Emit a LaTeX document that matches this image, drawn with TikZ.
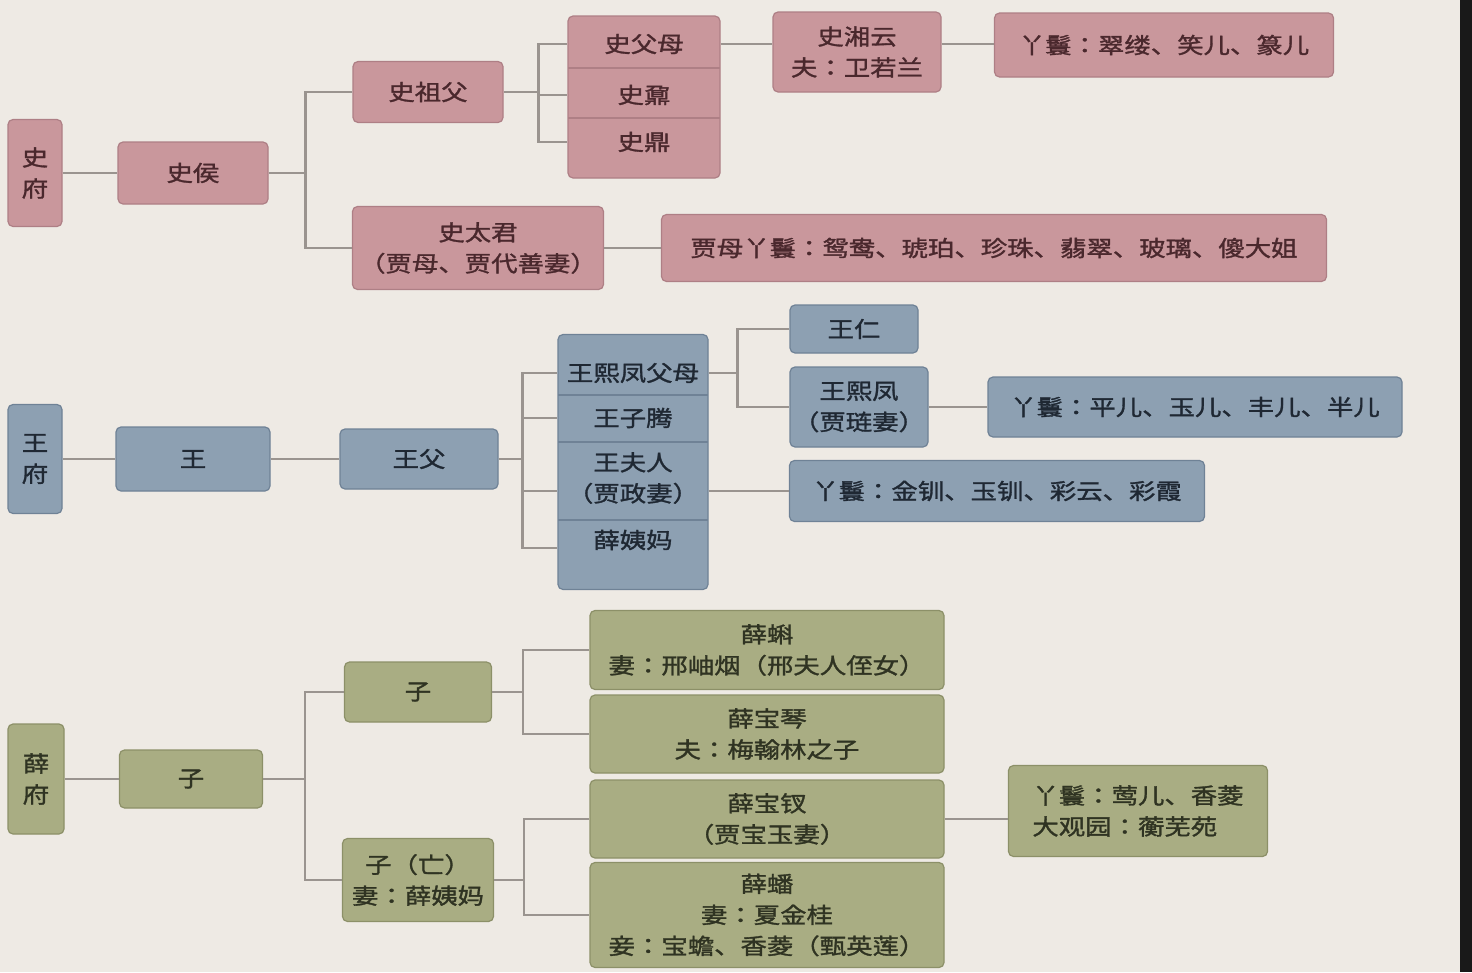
\documentclass[tikz,border=0pt]{standalone}
\usepackage{fontspec}
\newfontfamily\cjk[FakeStretch=1.2,FakeBold=1.4]{Noto Sans CJK JP}
\usetikzlibrary{calc}
\definecolor{Paper}{HTML}{EEEAE4}
\definecolor{ShiBack}{HTML}{C9979C}
\definecolor{ShiLine}{HTML}{AE7F85}
\definecolor{ShiText}{HTML}{4A282D}
\definecolor{WangBack}{HTML}{8DA0B2}
\definecolor{WangLine}{HTML}{6F8296}
\definecolor{WangText}{HTML}{1F2833}
\definecolor{XueBack}{HTML}{A9AD83}
\definecolor{XueLine}{HTML}{8C9068}
\definecolor{XueText}{HTML}{2F3322}
\definecolor{LinkGray}{HTML}{9A948F}
\tikzset{box/.style={draw,rounded corners=5pt,line width=1.2pt,inner sep=0pt,align=center,
 font=\cjk\fontsize{22pt}{31pt}\selectfont},
 shi/.style={box,draw=ShiLine,fill=ShiBack,text=ShiText},
 wang/.style={box,draw=WangLine,fill=WangBack,text=WangText},
 xue/.style={box,draw=XueLine,fill=XueBack,text=XueText},
 rowtext/.style={inner sep=0pt,align=center,font=\cjk\fontsize{22pt}{31pt}\selectfont},
 link/.style={draw=LinkGray,line width=2.4pt}}
\begin{document}
\begin{tikzpicture}[x=1pt,y=-1pt]
\fill[Paper] (0,0) rectangle (1472,972);
\fill[black!90] (1460,0) rectangle (1472,972);
\useasboundingbox (0,0) rectangle (1472,972);
% 史府
\node[shi,minimum width=54pt,minimum height=107pt] (sf) at (35,173) {史\\府};
\node[shi,minimum width=150pt,minimum height=62pt] (sh) at (193,173) {史侯};
\node[shi,minimum width=150pt,minimum height=61pt] (sz) at (428,92) {史祖父};
\node[shi,minimum width=152pt,minimum height=162pt] (sk) at (644,97) {};
\foreach \y in {68,118} \draw[ShiLine,line width=1.2pt] (568,\y) -- (720,\y);
\node[rowtext,text=ShiText] (s1) at (644,44) {史父母};
\node[rowtext,text=ShiText] (s2) at (644,95) {史鼐};
\node[rowtext,text=ShiText] (s3) at (644,142) {史鼎};
\node[shi,minimum width=168pt,minimum height=80pt] (sx) at (857,52) {史湘云\\夫：卫若兰};
\node[shi,minimum width=339pt,minimum height=64pt] (sy) at (1164,45) {丫鬟：翠缕、笑儿、篆儿};
\node[shi,minimum width=251pt,minimum height=83pt] (st) at (478,248) {史太君\\（贾母、贾代善妻）};
\node[shi,minimum width=665pt,minimum height=67pt] (sj) at (994,248) {贾母丫鬟：鸳鸯、琥珀、珍珠、翡翠、玻璃、傻大姐};
\draw[link] (sf) -- (sh);
\draw[link] (sh.east) -- ++(37,0) coordinate (b0);
\draw[link] (sz.west) -| (b0) |- (st.west);
\draw[link] (sz.east) -- ++(35,0) coordinate (b1);
\foreach \r in {s1,s2,s3} \draw[link] (b1) |- (\r -| sk.west);
\draw[link] (s1 -| sk.east) -- (s1 -| sx.west);
\draw[link] (s1 -| sx.east) -- (s1 -| sy.west);
\draw[link] (st) -- (sj);
% 王府
\node[wang,minimum width=54pt,minimum height=109pt] (wf) at (35,459) {王\\府};
\node[wang,minimum width=154pt,minimum height=64pt] (wa) at (193,459) {王};
\node[wang,minimum width=158pt,minimum height=60pt] (wb) at (419,459) {王父};
\node[wang,minimum width=150pt,minimum height=255pt] (wk) at (633,462) {};
\foreach \y in {395,442,520} \draw[WangLine,line width=1.2pt] (558,\y) -- (708,\y);
\node[rowtext,text=WangText] (w1) at (633,373) {王熙凤父母};
\node[rowtext,text=WangText] (w2) at (633,418) {王子腾};
\node[rowtext,text=WangText] (w3) at (633,478) {王夫人\\（贾政妻）};
\node[rowtext,text=WangText] (w4) at (633,540) {薛姨妈};
\node[wang,minimum width=128pt,minimum height=48pt] (wr) at (854,329) {王仁};
\node[wang,minimum width=138pt,minimum height=80pt] (wx) at (859,407) {王熙凤\\（贾琏妻）};
\node[wang,minimum width=414pt,minimum height=60pt] (wp) at (1195,407) {丫鬟：平儿、玉儿、丰儿、半儿};
\node[wang,minimum width=415pt,minimum height=61pt] (wj) at (997,491) {丫鬟：金钏、玉钏、彩云、彩霞};
\draw[link] (wf) -- (wa);
\draw[link] (wa) -- (wb);
\draw[link] (wb.east) -- ++(24,0) coordinate (b2);
\foreach \y in {373,418,491,548} \draw[link] (b2) |- (wk.west |- 0,\y);
\draw[link] (w1 -| wk.east) -- ++(29,0) coordinate (b3);
\draw[link] (wr.west) -| (b3) |- (wx.west);
\draw[link] (wx) -- (wp);
\draw[link] (wk.east |- wj) -- (wj);
% 薛府
\node[xue,minimum width=56pt,minimum height=110pt] (xf) at (36,779) {薛\\府};
\node[xue,minimum width=143pt,minimum height=58pt] (xa) at (191,779) {子};
\node[xue,minimum width=147pt,minimum height=60pt] (xb) at (418,692) {子};
\node[xue,minimum width=151pt,minimum height=83pt] (xc) at (418,880) {子（亡）\\妻：薛姨妈};
\node[xue,minimum width=354pt,minimum height=79pt] (xd) at (767,650) {薛蝌\\妻：邢岫烟（邢夫人侄女）};
\node[xue,minimum width=354pt,minimum height=78pt] (xe) at (767,734) {薛宝琴\\夫：梅翰林之子};
\node[xue,minimum width=354pt,minimum height=78pt] (xg) at (767,819) {薛宝钗\\（贾宝玉妻）};
\node[xue,minimum width=354pt,minimum height=105pt] (xh) at (767,915) {薛蟠\\妻：夏金桂\\妾：宝蟾、香菱（甄英莲）};
\node[xue,minimum width=259pt,minimum height=91pt,align=left] (xy) at (1138,811) {丫鬟：莺儿、香菱\\大观园：蘅芜苑};
\draw[link] (xf) -- (xa);
\draw[link] (xa.east) -- ++(42,0) coordinate (b4);
\draw[link] (xb.west) -| (b4) |- (xc.west);
\draw[link] (xb.east) -- ++(31,0) coordinate (b5);
\draw[link] (xd.west) -| (b5) |- (xe.west);
\draw[link] (xc.east) -- ++(30,0) coordinate (b6);
\draw[link] (xg.west) -| (b6) |- (xh.west);
\draw[link] (xg.east) -- (xg.east -| xy.west);
\end{tikzpicture}
\end{document}
